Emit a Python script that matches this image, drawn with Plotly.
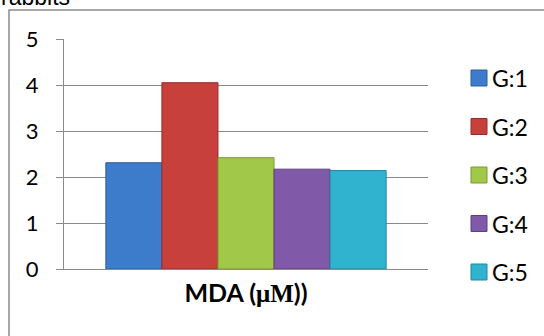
import plotly.graph_objects as go

# Data
category = "MDA (μM))"
groups = ["G:1", "G:2", "G:3", "G:4", "G:5"]
values = [2.31, 4.05, 2.42, 2.17, 2.14]
colors = ["#3D7CCB", "#C8403B", "#A2C84A", "#8059A8", "#2FB3CF"]
edges = ["#2B5E9E", "#962C29", "#7A9A33", "#5E3F80", "#2088A0"]
y_ticks = [0, 1, 2, 3, 4, 5]

W, H = 544, 336
L, R, T, B = 64, 116, 39, 67
pw, ph = W - L - R, H - T - B

def px_x(p):
    return (p - L) / pw

def px_y(p):
    return (H - B - p) / ph

cat_label = "<b>MDA (</b><span style='font-family:\"Liberation Serif\", serif'><b>μM</b></span><b>))</b>"

fig = go.Figure()
for g, v, c, e in zip(groups, values, colors, edges):
    fig.add_trace(go.Bar(
        x=[category], y=[v], name=g,
        marker=dict(color=c, line=dict(color=e, width=1)),
        showlegend=False,
    ))

shapes = [dict(type="rect", xref="paper", yref="paper",
               x0=px_x(9), x1=px_x(560), y0=px_y(10), y1=px_y(360),
               line=dict(color="#8A8A8A", width=1.5), fillcolor="rgba(0,0,0,0)", layer="below")]
annotations = [dict(text="rabbits", xref="paper", yref="paper", x=px_x(-1), y=px_y(-3),
                    xanchor="left", yanchor="middle", showarrow=False,
                    font=dict(family="Liberation Sans, Arial", size=23, color="#000"))]

row0, step = 78, 48.5
for i, (g, c, e) in enumerate(zip(groups, colors, edges)):
    yc = row0 + step * i
    shapes.append(dict(type="rect", xref="paper", yref="paper",
                       x0=px_x(471), x1=px_x(487), y0=px_y(yc - 8), y1=px_y(yc + 8),
                       fillcolor=c, line=dict(color=e, width=1)))
    annotations.append(dict(text=g, xref="paper", yref="paper", x=px_x(490), y=px_y(yc),
                            xanchor="left", yanchor="middle", showarrow=False,
                            font=dict(family="Lato, Carlito, sans-serif", size=23, color="#000")))

fig.update_layout(
    width=W, height=H,
    margin=dict(l=L, r=R, t=T, b=B),
    paper_bgcolor="white", plot_bgcolor="white",
    barmode="group", bargap=0.23, bargroupgap=0,
    showlegend=False,
    shapes=shapes, annotations=annotations,
    font=dict(family="Lato, Carlito, sans-serif", size=22, color="#000"),
)
fig.update_yaxes(
    range=[0, 5], tickvals=y_ticks, ticktext=[str(t) for t in y_ticks],
    showgrid=True, gridcolor="#8A8A8A", gridwidth=1.3,
    showline=True, linecolor="#8A8A8A", linewidth=1.3,
    ticks="outside", ticklen=7, tickcolor="#8A8A8A", tickwidth=1.3,
    ticklabelstandoff=13, zeroline=False,
    tickfont=dict(size=22),
)
fig.update_xaxes(
    tickvals=[category], ticktext=[cat_label],
    showline=True, linecolor="#8A8A8A", linewidth=1.3,
    ticks="", tickfont=dict(size=25, family="Lato, Carlito, sans-serif"),
    ticklabelstandoff=2,
)

fig.write_html("out.html")
